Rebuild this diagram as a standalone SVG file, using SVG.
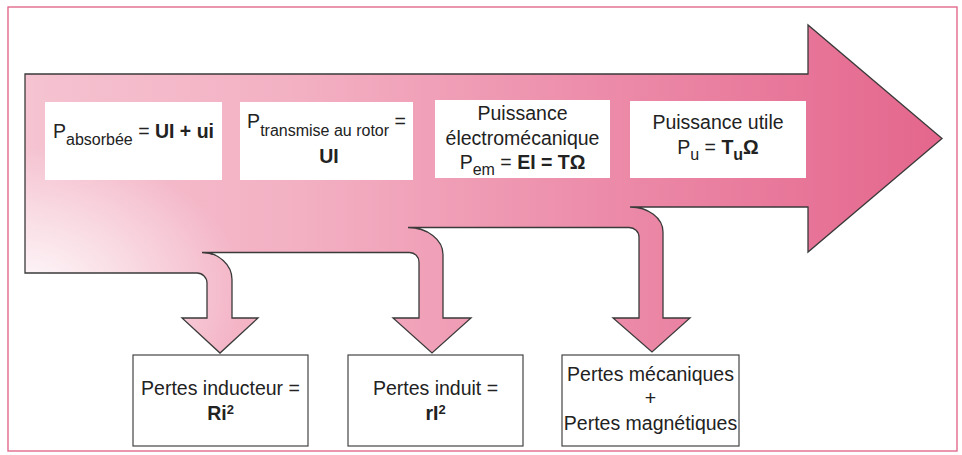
<svg xmlns="http://www.w3.org/2000/svg" width="962" height="455" viewBox="0 0 962 455">
<style>
.t{font-family:"Liberation Sans",Arial,Helvetica,sans-serif;font-size:19.5px;fill:#222}
.b{font-weight:bold}
.s{font-size:16px}
.sup{font-size:13px;font-weight:bold}
.wbox{fill:#ffffff}
.lbox{fill:#ffffff;stroke:#444;stroke-width:1.2}
.arrow{stroke:#3a3a3a;stroke-width:1.3;stroke-linejoin:miter}
</style>
<defs>
<linearGradient id="g" gradientUnits="userSpaceOnUse" x1="25" y1="0" x2="942" y2="0">
<stop offset="0" stop-color="#f5c3d1"/>
<stop offset="0.3" stop-color="#f3b0c3"/>
<stop offset="0.6" stop-color="#ed8fac"/>
<stop offset="1" stop-color="#e4668d"/>
</linearGradient>
<radialGradient id="w" gradientUnits="userSpaceOnUse" cx="25" cy="290" r="220" gradientTransform="translate(25 290) scale(1 0.65) translate(-25 -290)">
<stop offset="0" stop-color="#ffffff" stop-opacity="0.9"/>
<stop offset="1" stop-color="#ffffff" stop-opacity="0"/>
</radialGradient>
<path id="ap" d="M 25 74 L 808 74 L 808 25 L 942 138.5 L 808 252 L 808 207 L 630 207 A 33 25 0 0 1 663 232 L 663 318 L 690 318 L 652 352 L 613 318 L 639 318 L 639 237 A 10 9.5 0 0 0 629 227.5 L 408 227.5 A 35 27 0 0 1 443 254.5 L 443 318 L 471 318 L 432 353 L 393 318 L 419 318 L 419 262 A 9.5 9.5 0 0 0 409.5 252.5 L 202 252.5 A 30 27 0 0 1 232 279.5 L 232 318 L 258 318 L 220 353 L 182 318 L 207 318 L 207 283 A 10 10 0 0 0 197 273 L 25 273 Z"/>
</defs>
<rect x="0" y="0" width="962" height="455" fill="#ffffff"/>
<rect id="frame" x="8" y="7" width="949" height="444" fill="none" stroke="#e06a8c" stroke-width="1.4"/>
<g id="connectors">
<use href="#ap" fill="url(#g)"/>
<use href="#ap" fill="url(#w)"/>
<use href="#ap" fill="none" class="arrow"/>
</g>
<g id="absorbee">
<rect class="wbox" x="45" y="102" width="177" height="78"/>
<text class="t" x="133.5" y="138" text-anchor="middle">P<tspan class="s" dy="7">absorbée</tspan><tspan dy="-7"> = </tspan><tspan class="b">UI + ui</tspan></text>
</g>
<g id="transmise">
<rect class="wbox" x="240" y="102" width="173" height="78"/>
<text class="t" x="326.5" y="128" text-anchor="middle">P<tspan class="s" dy="8">transmise au rotor</tspan><tspan dy="-8"> =</tspan></text>
<text class="t b" x="329" y="163" text-anchor="middle">UI</text>
</g>
<g id="electromecanique">
<rect class="wbox" x="435" y="100" width="175" height="78"/>
<text class="t" x="522.5" y="120" text-anchor="middle">Puissance</text>
<text class="t" x="522.5" y="145" text-anchor="middle">électromécanique</text>
<text class="t" x="522.5" y="169" text-anchor="middle">P<tspan class="s" dy="6">em</tspan><tspan dy="-6"> = </tspan><tspan class="b">EI = TΩ</tspan></text>
</g>
<g id="utile">
<rect class="wbox" x="630" y="101" width="176" height="77"/>
<text class="t" x="718" y="129" text-anchor="middle">Puissance utile</text>
<text class="t" x="718" y="154" text-anchor="middle">P<tspan class="s" dy="6">u</tspan><tspan dy="-6"> = </tspan><tspan class="b">T</tspan><tspan class="s b" dy="6">u</tspan><tspan class="b" dy="-6">Ω</tspan></text>
</g>
<g id="inducteur">
<rect class="lbox" x="133" y="355" width="175" height="91"/>
<text class="t" x="220.5" y="395" text-anchor="middle">Pertes inducteur =</text>
<text class="t b" x="220.5" y="420" text-anchor="middle">Ri<tspan class="sup" dy="-6">2</tspan></text>
</g>
<g id="induit">
<rect class="lbox" x="348" y="355" width="175" height="91"/>
<text class="t" x="435.5" y="395" text-anchor="middle">Pertes induit =</text>
<text class="t b" x="435.5" y="420" text-anchor="middle">rI<tspan class="sup" dy="-6">2</tspan></text>
</g>
<g id="mecaniques">
<rect class="lbox" x="562" y="355" width="177" height="91"/>
<text class="t" x="650.5" y="381" text-anchor="middle">Pertes mécaniques</text>
<text class="t" x="650.5" y="405" text-anchor="middle">+</text>
<text class="t" x="650.5" y="430" text-anchor="middle">Pertes magnétiques</text>
</g>
</svg>
